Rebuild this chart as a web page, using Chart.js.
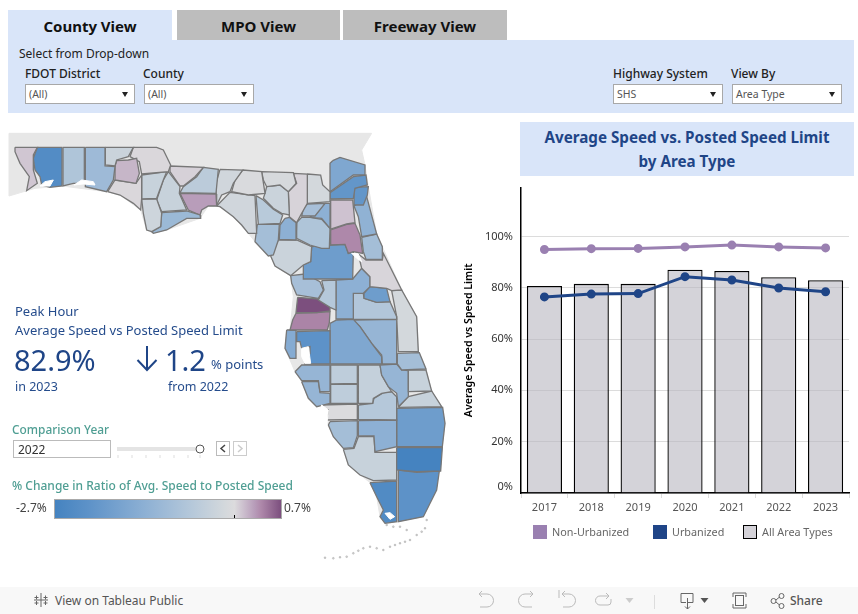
<!DOCTYPE html>
<html>
<head>
<meta charset="utf-8">
<title>Average Speed vs. Posted Speed Limit</title>
<script src="https://cdn.jsdelivr.net/npm/chart.js@4"></script>
<style>
  html, body { margin: 0; padding: 0; background: #fff; }
  body { width: 858px; height: 614px; position: relative; overflow: hidden; font-family: 'Noto Sans', sans-serif; }
  .abs { position: absolute; white-space: nowrap; }
  canvas { position: absolute; display: block; }
  .tab { position: absolute; top: 10px; height: 30px; line-height: 32px; text-align: center; font-weight: 700; font-size: 15px; color: #111; }
  .lbl { font-size: 12px; color: #222; line-height: 14px; }
  .drop { position: absolute; top: 84px; width: 108px; height: 18px; background: #fff; border: 1px solid #a8a8a8; font-size: 10.5px; line-height: 18px; color: #555; text-indent: 3px; }
  .drop:after { content: ''; position: absolute; right: 6px; top: 7px; border: 3.5px solid transparent; border-top: 5px solid #222; border-bottom: 0; }
  .blue { color: #254c8c; }
  .teal { color: #4f9e93; }
  .key { position: absolute; top: 525px; width: 14px; height: 14px; }
  .keytext { font-size: 10.8px; color: #666; top: 525px; line-height: 14px; }
  svg { position: absolute; }
</style>
</head>
<body>
<canvas id="map" width="470" height="450" style="left:0;top:130px"></canvas>

<div class="abs" style="left:8px;top:40px;width:846px;height:73px;background:#d9e5f9"></div>
<div class="tab" style="left:8px;width:164px;background:#d9e5f9">County View</div>
<div class="tab" style="left:177px;width:163px;background:#bdbdbd">MPO View</div>
<div class="tab" style="left:343px;width:164px;background:#bdbdbd">Freeway View</div>
<div class="abs lbl" style="left:19px;top:47px">Select from Drop-down</div>
<div class="abs lbl" style="left:25px;top:67px;font-weight:500">FDOT District</div>
<div class="abs lbl" style="left:143px;top:67px;font-weight:500">County</div>
<div class="abs lbl" style="left:613px;top:67px;font-weight:500">Highway System</div>
<div class="abs lbl" style="left:731px;top:67px;font-weight:500">View By</div>
<div class="drop" style="left:25px">(All)</div>
<div class="drop" style="left:144px">(All)</div>
<div class="drop" style="left:613px">SHS</div>
<div class="drop" style="left:732px">Area Type</div>

<div class="abs" style="left:520px;top:122px;width:334px;height:54px;background:#d9e5f9;color:#1f4587;font-weight:700;font-size:15.2px;line-height:24px;text-align:center;padding-top:3px;box-sizing:border-box">Average Speed vs. Posted Speed Limit<br>by Area Type</div>

<div class="abs blue" style="left:15px;top:302px;font-size:13px;line-height:18px">Peak Hour</div>
<div class="abs blue" style="left:15px;top:321px;font-size:13px;line-height:18px">Average Speed vs Posted Speed Limit</div>
<div class="abs" style="left:14px;top:340px;font-size:29px;line-height:40px;color:#1f4587">82.9%</div>
<div class="abs blue" style="left:15px;top:378px;font-size:12.5px;line-height:17px">in 2023</div>
<svg style="left:135px;top:345px" width="24" height="28" fill="none" stroke="#1f4587" stroke-width="2">
  <path d="M12 1v24M2.500 15l9.500 10 9.500-10"/>
</svg>
<div class="abs" style="left:165px;top:340px;font-size:29px;line-height:40px;color:#1f4587">1.2</div>
<div class="abs blue" style="left:211px;top:355px;font-size:13px;line-height:18px">% points</div>
<div class="abs blue" style="left:168px;top:378px;font-size:12.5px;line-height:17px">from 2022</div>

<div class="abs teal" style="left:12px;top:420px;font-size:11.9px;line-height:18px;font-weight:500">Comparison Year</div>
<div class="abs" style="left:13px;top:440px;width:96px;height:16px;border:1px solid #bbb;font-size:12px;line-height:17px;color:#333;text-indent:4px">2022</div>
<div class="abs" style="left:117px;top:447px;width:83px;height:4px;background:#e4e4e4"></div>
<svg style="left:115px;top:440px" width="140" height="20">
  <path d="M3 15v3M17 15v3M31 15v3M45 15v3M59 15v3M73 15v3M85 15v3" stroke="#ddd"/>
  <circle cx="85" cy="9" r="4" fill="#fff" stroke="#555"/>
  <rect x="101.500" y="1.500" width="13" height="14" fill="#fff" stroke="#bbb"/>
  <path d="M110 5l-4 3.500 4 3.500" fill="none" stroke="#444" stroke-width="1.500"/>
  <rect x="118.500" y="1.500" width="13" height="14" fill="#fff" stroke="#ccc"/>
  <path d="M123 5l4 3.500-4 3.500" fill="none" stroke="#ccc" stroke-width="1.500"/>
</svg>

<div class="abs teal" style="left:12px;top:477px;font-size:12px;line-height:17px;font-weight:500">% Change in Ratio of Avg. Speed to Posted Speed</div>
<div class="abs" style="left:16px;top:500px;font-size:12px;line-height:16px;color:#444">-2.7%</div>
<div class="abs" style="left:284px;top:500px;font-size:12px;line-height:16px;color:#444">0.7%</div>
<div class="abs" id="ramp" style="left:54px;top:499px;width:226px;height:18px;border:1px solid #aaa"></div>
<div class="abs" id="rampTick" style="top:515px;width:1px;height:3px;background:#000"></div>

<canvas id="chart" width="398" height="347" style="left:460px;top:173px"></canvas>
<div class="key" style="left:533px;background:#9a80b1"></div>
<div class="abs keytext" style="left:552px">Non-Urbanized</div>
<div class="key" style="left:653px;background:#1f4587"></div>
<div class="abs keytext" style="left:672px">Urbanized</div>
<div class="key" style="left:743px;width:12px;height:12px;background:#d4d2d8;border:1px solid #000"></div>
<div class="abs keytext" style="left:762px">All Area Types</div>

<div class="abs" style="left:0;top:587px;width:858px;height:27px;background:#f8f8f8"></div>
<svg style="left:0;top:587px" width="858" height="27" fill="none" stroke="#bbb">
  <path d="M41 6v14M34 13h14M36.500 8.500v4M34.500 10.500h4M45.500 8.500v4M43.500 10.500h4M36.500 14v4M34.500 16h4M45.500 14v4M43.500 16h4" stroke="#666"/>
  <path d="M479 7h8a5.500 5.500 0 0 1 0 13h-7M479 7l3-3M479 7l3 3"/>
  <path d="M533 7h-8a5.500 5.500 0 0 0 0 13h7M533 7l-3-3M533 7l-3 3"/>
  <path d="M562 7h7a5.500 5.500 0 0 1 0 13h-6M559 3v8M562 7l3-3M562 7l3 3"/>
  <path d="M609 9h-9a3 3 0 0 0 0 9h8a3 3 0 0 0 3-3v-3M609 9l-3-3M609 9l-3 3"/>
  <path d="M625.500 11h8l-4 5z" fill="#ccc" stroke="none"/>
  <path d="M654.500 8v14" stroke="#ddd"/>
  <path d="M681 6.500h12v9h-5M687.500 11v11M685 19.500l2.500 2.500 2.500-2.500M681 6.500v9h5" stroke="#666"/>
  <path d="M700.500 11h8l-4 5z" fill="#555" stroke="none"/>
  <path d="M733 10V6h13v4M733 17v4h13v-4" stroke="#666"/><rect x="735.500" y="8.500" width="8" height="10" stroke="#666"/>
  <circle cx="773.500" cy="14" r="2.500" stroke="#666"/><circle cx="781.500" cy="9" r="2.500" stroke="#666"/><circle cx="781.500" cy="19" r="2.500" stroke="#666"/>
  <path d="M776 13l3.500-3M776 15l3.500 3" stroke="#666"/>
</svg>
<div class="abs" style="left:55px;top:593px;font-size:12px;line-height:16px;color:#555">View on Tableau Public</div>
<div class="abs" style="left:790px;top:593px;font-size:12px;line-height:16px;color:#555;font-weight:500">Share</div>

<script>
// bar + line chart
const years = ['2017', '2018', '2019', '2020', '2021', '2022', '2023'];
const allAreaTypes = [80.7, 81.5, 81.5, 87.0, 86.5, 84.1, 82.9];
const urbanized = [76.4, 77.5, 77.7, 84.3, 83.0, 79.9, 78.4];
const nonUrbanized = [94.9, 95.2, 95.3, 95.9, 96.6, 95.9, 95.5];
const speedTicks = [0, 20, 40, 60, 80, 100];

// colour legend, % change -> colour
const rampValues = [-2.7, -2.2, -1.35, -0.65, -0.15, 0, 0.1, 0.3, 0.4, 0.7];
const rampColors = ['#4583c0', '#5d92c8', '#8db0d4', '#b5c8da', '#d3d8dc', '#dcdbdd', '#d0c6d2', '#b89dba', '#ae88aa', '#7c4f7e'];

// % change per county, same order as the two outline lists below
const countyChange = [
  0.1, -2.4, -0.75, -1.05, -0.3, 0.18, 0.02, 0.02, -0.35, -0.25, -0.35, -1.1, 0.05, -0.55, 0.3, -0.2,
  -0.05, -0.2, -0.1, -0.3, -0.6, 0.04, -0.15, -0.9, -1.35, -1.6, -2.1, -2.1, 0.12, -1.3, -0.95, -1.35,
  -0.75, 0.4, -0.95, 0.03, -0.3, -1.9, -0.9, -0.65, -1.35, -1.9, -0.7, -0.15, 0.7, 0.42, -1.5,
  -2.2, -1.6, -1.2, -0.95, -0.35, -1.2, -1.2, -1.2, -0.5, -0.5, -0.4, -0.65, -0.02, -0.35, -0.95, -1.35,
  -1.9, -2.7, -0.35, -2.2, -2.45
];

// county outlines on the map's own grid, x,y,x,y...
const northOutlines = [
  [45,52,112,52,100,75,100,120,112,160,80,182,88,140,60,100,45,65],
  [112,52,186,52,186,168,150,172,125,165,120,140,105,120,100,85],
  [189,52,253,52,253,160,220,160,189,168],
  [256,52,315,52,315,108,345,110,340,150,320,185,256,170],
  [316,52,400,52,385,80,350,90,345,108,316,105],
  [345,108,350,92,385,90,410,85,418,130,408,160,345,150],
  [400,52,470,52,490,60,512,105,505,125,425,132,418,95,390,80],
  [323,185,345,150,408,160,425,135,425,205,422,240,400,220,360,195],
  [425,135,500,125,490,150,470,205,425,207],
  [425,207,470,207,485,250,482,290,455,305,440,300,430,250],
  [505,125,540,170,538,190,560,240,485,245,470,210,490,150],
  [485,248,560,243,600,255,602,265,560,265,500,300,460,310,455,305,482,290],
  [510,108,610,112,585,140,550,168,540,168,510,125],
  [610,112,655,118,648,190,540,188,550,170,590,140],
  [540,190,648,192,650,228,625,228,605,240,600,255,565,240],
  [660,118,728,120,700,160,690,185,665,195,650,225,648,160],
  [728,120,785,125,795,190,745,195,695,185,705,150],
  [650,228,690,187,765,197,770,310,745,310,725,285,700,260,660,230],
  [785,125,880,128,888,160,865,185,840,165,800,170,790,150],
  [795,190,800,170,840,165,865,185,868,255,845,250,820,235,790,205],
  [768,197,790,210,820,238,848,255,840,280,775,283],
  [880,130,922,132,922,220,905,250,890,278,868,260,865,185,890,160],
  [922,132,962,135,968,165,990,185,990,215,922,220],
  [922,222,975,220,945,258,905,258,910,235],
  [975,220,990,220,990,295,965,265,930,262],
  [998,92,1020,82,1095,105,1095,135,1060,135,990,185,990,100],
  [990,188,1060,140,1098,135,1102,165,1065,175,1060,205,990,207],
  [1062,172,1105,170,1102,195,1090,225,1062,225],
  [992,210,1058,210,1065,278,1040,282,992,297],
  [1062,228,1100,200,1130,312,1085,320,1075,260],
  [772,283,838,282,835,330,820,375,805,378,765,335],
  [855,265,868,262,890,280,888,330,838,328,840,285],
  [890,278,905,262,930,262,965,268,990,295,988,355,965,355,930,345,890,325],
  [992,300,1040,283,1065,280,1080,315,1088,370,1060,365,1045,370,1035,343,990,345],
  [1085,322,1130,312,1147,350,1147,388,1098,388,1090,365],
  [1075,372,1098,390,1147,390,1150,370,1205,480,1175,482,1160,475,1110,470,1110,440,1085,415],
  [812,378,835,330,890,330,935,350,932,395,910,405,872,437,825,408],
  [910,405,932,395,935,350,990,345,1035,343,1045,370,1060,365,1058,447,910,447],
  [872,437,915,432,960,455,970,480,955,505,890,495,875,460],
  [965,452,1008,450,1008,540,990,532,955,510,972,480],
  [1008,450,1058,447,1085,415,1110,440,1110,470,1090,490,1060,490,1060,567,1010,567],
  [1092,490,1110,470,1160,475,1170,515,1130,517,1092,505],
  [1060,485,1090,490,1092,505,1130,517,1170,515,1190,560,1190,568,1060,568],
  [1175,482,1205,480,1250,560,1255,665,1195,665,1190,560],
  [893,502,955,507,990,532,990,543,950,548,888,548],
  [888,550,950,548,990,545,988,578,982,600,870,600,878,570],
  [860,600,888,600,888,685,870,685,855,655]
];
// these were read 480 grid units further up, southShift puts them back
const southShift = 480;
const southOutlines = [
  [890,125,990,122,990,222,915,222,930,190,930,170,905,175,900,155,888,155],
  [990,100,1010,90,1060,88,1080,110,1115,160,1145,200,1145,222,990,222],
  [1060,90,1190,88,1190,222,1147,222,1145,195,1115,160,1080,110],
  [1192,190,1258,188,1278,237,1205,240,1192,222],
  [1225,240,1278,240,1295,303,1225,305],
  [1140,225,1190,222,1205,240,1225,242,1225,320,1195,350,1190,310,1165,290,1145,255],
  [885,245,905,225,990,225,990,305,960,305,955,272,905,272],
  [905,275,955,275,960,308,990,310,990,340,950,350,925,325],
  [992,225,1072,225,1072,280,992,282],
  [992,283,1072,283,1072,340,992,340],
  [1075,225,1140,225,1145,255,1165,290,1175,305,1145,310,1120,325,1118,340,1075,340],
  [1075,345,1118,340,1122,325,1150,308,1175,305,1190,320,1190,390,1075,388],
  [960,345,1072,342,1072,388,980,390,985,360,965,355],
  [1195,352,1225,320,1295,303,1325,350],
  [990,395,1072,392,1072,437,1060,473,1030,475,1000,440,985,405],
  [1075,392,1190,390,1190,470,1125,485,1122,438,1075,437],
  [1190,355,1328,352,1335,400,1327,470,1190,470],
  [1190,473,1327,473,1322,543,1250,545,1190,540],
  [1030,478,1062,475,1075,440,1122,440,1125,487,1190,487,1190,570,1120,572,1080,555,1045,525],
  [1195,540,1250,547,1318,543,1310,600,1285,650,1270,680,1195,695],
  [1110,578,1190,573,1190,695,1155,700,1140,680,1150,660,1130,620]
];
// grey land: Alabama and Georgia, then round the coast
const landOutline = [
  27,10,1115,10,1100,35,1085,60,1095,105,1105,170,1130,312,1205,480,1250,560,1255,665,1278,717,1295,783,1325,830,1335,880,1327,950,
  1318,1023,1285,1130,1270,1160,1195,1175,1155,1180,1140,1160,1130,1100,1110,1058,1045,1005,1030,955,1000,920,985,885,960,825,925,805,
  905,755,885,725,855,655,860,600,870,600,880,500,872,437,825,408,812,378,765,335,745,310,700,260,660,230,625,228,600,265,500,300,
  460,310,440,300,422,240,360,195,320,185,186,168,105,175,27,198
];
// bays cut out of the land
const waterPatches = [
  [120,168,135,155,160,150,150,168],
  [222,165,245,150,280,155,285,165,250,162],
  [905,655,925,650,932,700,915,700,905,680],
  [1055,370,1075,372,1085,395,1070,385],
  [965,825,985,840,980,890,965,870,955,845],
  [1155,1150,1170,1148,1184,1160,1170,1168]
];
const keysTrail = [
  975,1283,1000,1285,1020,1282,1040,1280,1060,1270,1075,1262,1090,1255,1110,1250,1130,1255,1150,1260,1170,1250,1185,1245,1200,1240,
  1215,1235,1230,1230,1250,1215,1265,1205,1275,1195,1280,1170,1160,1185,1180,1190,1200,1190,1220,1200
];

const toPoints = (flat, shift) => {
  const pts = [];
  for (let i = 0; i < flat.length; i += 2) pts.push({ x: flat[i], y: flat[i + 1] + shift });
  pts.push({ x: flat[0], y: flat[1] + shift });
  return pts;
};

const hexToRgb = (hex) => [1, 3, 5].map((i) => parseInt(hex.slice(i, i + 2), 16));

const colorFor = (value) => {
  let i = 0;
  while (i < rampValues.length - 2 && value > rampValues[i + 1]) i++;
  const t = Math.min(1, Math.max(0, (value - rampValues[i]) / (rampValues[i + 1] - rampValues[i])));
  const a = hexToRgb(rampColors[i]);
  const b = hexToRgb(rampColors[i + 1]);
  return 'rgb(' + a.map((v, k) => Math.round(v + (b[k] - v) * t)).join(',') + ')';
};

// legend bar
const rampLow = rampValues[0];
const rampHigh = rampValues[rampValues.length - 1];
const rampStops = rampValues.map((v, i) => rampColors[i] + ' ' + ((v - rampLow) / (rampHigh - rampLow) * 100).toFixed(1) + '%');
document.getElementById('ramp').style.background = 'linear-gradient(to right,' + rampStops.join(',') + ')';
document.getElementById('rampTick').style.left = Math.round(55 + 226 * (0 - rampLow) / (rampHigh - rampLow)) + 'px';

const outlines = northOutlines.map((o) => toPoints(o, 0)).concat(southOutlines.map((o) => toPoints(o, southShift)));
const countyDatasets = outlines.map((pts, i) => ({
  data: pts,
  showLine: true,
  fill: 'shape',
  backgroundColor: colorFor(countyChange[i]),
  borderColor: '#777',
  borderWidth: 1.3,
  pointRadius: 0,
  order: 2
}));
const waterDatasets = waterPatches.map((o) => ({
  data: toPoints(o, 0),
  showLine: true,
  fill: 'shape',
  backgroundColor: '#fff',
  borderColor: '#fff',
  borderWidth: 1,
  pointRadius: 0,
  order: 1
}));

new Chart(document.getElementById('map'), {
  type: 'scatter',
  data: {
    datasets: [
      ...waterDatasets,
      ...countyDatasets,
      { data: toPoints(landOutline, 0), showLine: true, fill: 'shape', backgroundColor: '#e7e7e7', borderColor: '#e7e7e7', borderWidth: 1, pointRadius: 0, order: 5 },
      { data: toPoints(keysTrail, 0).slice(0, -1), showLine: false, backgroundColor: '#cfcfcf', pointRadius: 1, order: 4 }
    ]
  },
  options: {
    responsive: false,
    animation: false,
    events: [],
    layout: { autoPadding: false },
    plugins: { legend: { display: false }, tooltip: { enabled: false } },
    scales: {
      x: { type: 'linear', display: false, min: 0, max: 1410 },
      y: { type: 'linear', display: false, min: 0, max: 1350, reverse: true }
    }
  }
});

new Chart(document.getElementById('chart'), {
  data: {
    labels: years,
    datasets: [
      { type: 'line', label: 'Non-Urbanized', data: nonUrbanized, borderColor: '#9a80b1', backgroundColor: '#9a80b1', borderWidth: 3, pointRadius: 3, tension: 0, order: 1 },
      { type: 'line', label: 'Urbanized', data: urbanized, borderColor: '#1f4587', backgroundColor: '#1f4587', borderWidth: 3, pointRadius: 3, tension: 0, order: 0 },
      { type: 'bar', label: 'All Area Types', data: allAreaTypes, backgroundColor: 'rgba(184,181,191,0.6)', borderColor: '#000', borderWidth: 1.3, categoryPercentage: 1, barPercentage: 0.75, order: 2 }
    ]
  },
  options: {
    responsive: false,
    animation: false,
    events: [],
    layout: { autoPadding: false, padding: { top: 0, right: 9, bottom: 0, left: 3 } },
    plugins: { legend: { display: false }, tooltip: { enabled: false } },
    scales: {
      x: {
        afterFit: (axis) => { axis.height = 27; },
        border: { color: '#000', width: 1.5 },
        grid: { drawOnChartArea: false, tickColor: '#ddd', tickLength: 5 },
        ticks: { color: '#555', font: { family: 'Noto Sans', size: 11 }, padding: 3, maxRotation: 0 }
      },
      y: {
        min: 0,
        max: 119,
        afterBuildTicks: (axis) => { axis.ticks = speedTicks.map((v) => ({ value: v })); },
        afterFit: (axis) => { axis.width = 58; },
        border: { color: '#000', width: 1.5 },
        grid: { color: '#dcdcdc', drawTicks: false },
        title: { display: true, text: 'Average Speed vs Speed Limit', color: '#000', font: { family: 'Noto Sans', size: 10.6, weight: '600' }, padding: { top: 0, bottom: 0 } },
        ticks: {
          color: '#333',
          font: { family: 'Noto Sans', size: 11 },
          padding: 8,
          callback: (v) => (v === 0 ? ['0%', ''] : v + '%')
        }
      }
    }
  }
});
</script>
</body>
</html>
